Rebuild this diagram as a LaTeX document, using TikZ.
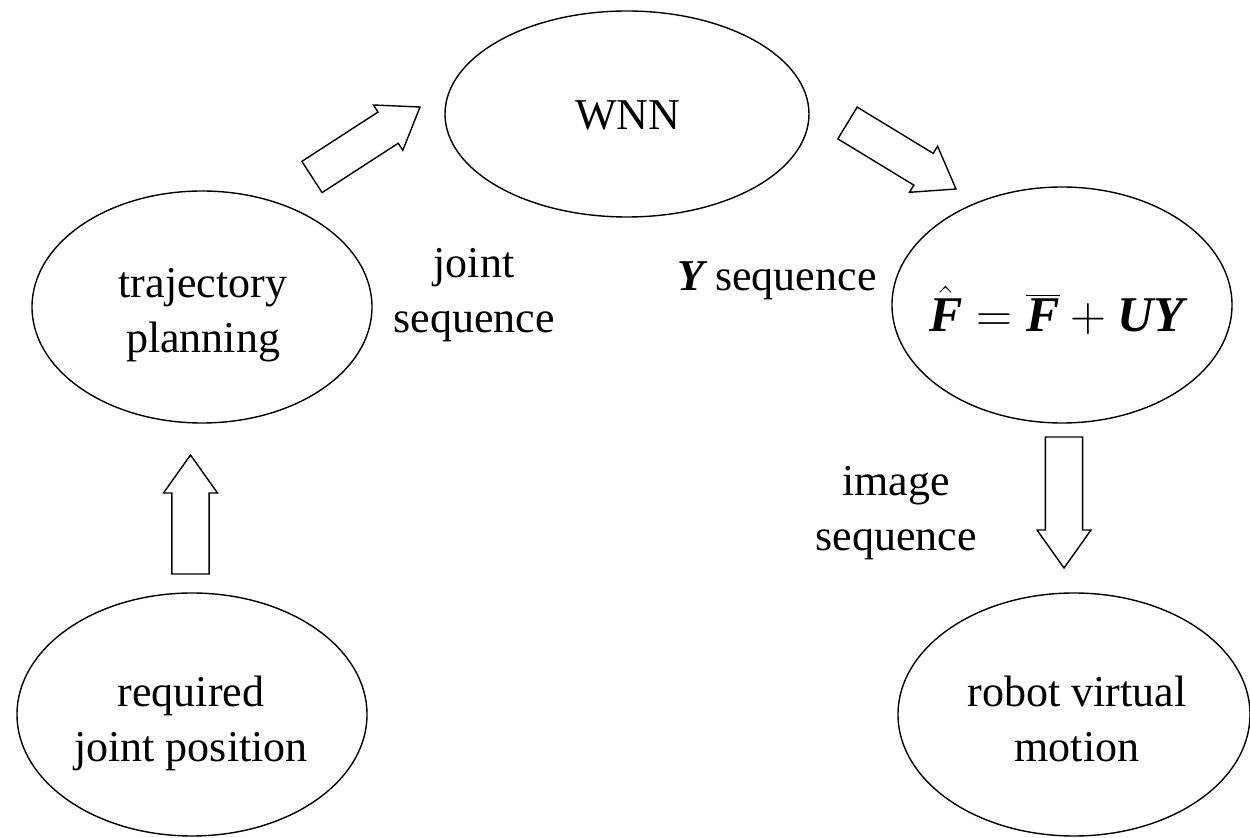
\documentclass[tikz,border=0pt]{standalone}
\usepackage{fontspec}
\setmainfont{Liberation Serif}
\usetikzlibrary{shapes.geometric,calc}
\newcommand{\myBI}[1]{\mbox{\bfseries\itshape #1}}
% block arrow from tail coordinate #1 to tip coordinate #2
\newcommand{\blockarr}[2]{%
  \coordinate (#1-hb) at ($(#2)!19pt!(#1)$);
  \draw[arrowline]
    ($(#1)!9.3pt!90:(#2)$) -- ($(#1-hb)!9.3pt!-90:(#1)$) -- ($(#1-hb)!13.5pt!-90:(#1)$)
    -- (#2) -- ($(#1-hb)!13.5pt!90:(#1)$) -- ($(#1-hb)!9.3pt!90:(#1)$)
    -- ($(#1)!9.3pt!-90:(#2)$) -- cycle;}
\begin{document}
\begin{tikzpicture}[x=0.5pt,y=-0.5pt,
  ell/.style={draw, ellipse, line width=0.7pt, inner sep=0pt},
  txt/.style={font=\fontsize{22}{27.5}\selectfont, align=center, inner sep=0pt},
  arrowline/.style={draw, line width=0.7pt, fill=white, line join=miter}]
\useasboundingbox (0,0) rectangle (1250,838);

% ellipses
\node[ell, minimum width=182pt, minimum height=103pt] (wnn) at (627,114) {};
\node[ell, minimum width=170pt, minimum height=116pt] (traj) at (202,307) {};
\node[ell, minimum width=170pt, minimum height=118pt] (fhat) at (1062,305) {};
\node[ell, minimum width=175pt, minimum height=121.5pt] (req) at (192,714.5) {};
\node[ell, minimum width=176pt, minimum height=121.5pt] (robot) at (1074,714.5) {};

% texts in ellipses
\node[txt] (wnnt) at (628,115.5) {WNN};
\node[txt] (trajt) at (203,315) {trajectory\\planning};
\node[txt, font=\fontsize{25}{30}\selectfont] (fhatt) at (1057,310) {$\hat{\myBI{F}} = \overline{\myBI{F}} + \myBI{UY}$};
\node[txt] (reqt) at (191,723) {required\\joint position};
\node[txt] (robott) at (1077,719) {robot virtual\\motion};

% free labels
\node[txt] (jseq) at (474,295) {joint\\sequence};
\node[txt] (yseq) at (777,281) {\myBI{Y} sequence};
\node[txt] (iseq) at (896,513) {image\\sequence};

% block arrows
\coordinate (a1) at (190.5,574); \coordinate (a1t) at (190.5,455);
\coordinate (a2) at (312,177);   \coordinate (a2t) at (420,107);
\coordinate (a3) at (847.5,123); \coordinate (a3t) at (956,189);
\coordinate (a4) at (1064,437);  \coordinate (a4t) at (1064,568);
\blockarr{a1}{a1t}
\blockarr{a2}{a2t}
\blockarr{a3}{a3t}
\blockarr{a4}{a4t}
\end{tikzpicture}
\end{document}
